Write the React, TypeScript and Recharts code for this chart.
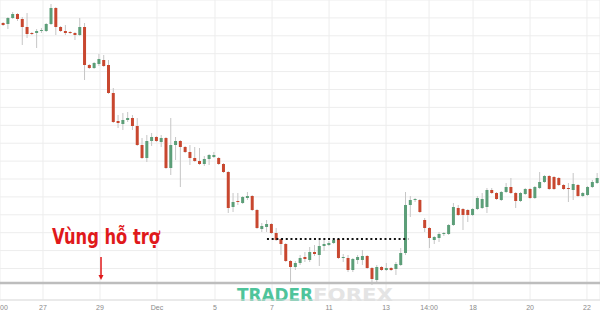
import React from 'react';
import { ComposedChart, Bar, XAxis, YAxis, CartesianGrid, ReferenceLine } from 'recharts';

// 4H candles, price in arbitrary units
const opens = [
  277, 276, 282, 286, 281, 273, 267, 267, 269, 269, 276, 292, 273, 269, 268, 267, 265, 273, 235, 232,
  236, 240, 235, 207, 179, 176, 180, 182, 174, 155, 142, 159, 163, 158, 162, 132, 155, 159, 153, 148,
  142, 139, 136, 141, 143, 142, 136, 128, 93, 99, 97, 102, 104, 90, 71, 73, 76, 67, 61, 56,
  39, 33, 37, 43, 40, 48, 45, 54, 55, 57, 61, 42, 42, 30, 40, 40, 44, 32, 20, 33,
  30, 32, 31, 35, 47, 95, 100, 100, 80, 72, 60, 62, 66, 66, 75, 92, 91, 90, 85, 91,
  92, 93, 110, 107, 100, 108, 113, 107, 99, 106, 111, 102, 112, 118, 124, 123, 122, 115, 112, 110,
  115, 104, 105, 113, 117,
];
const highs = [
  278, 283, 288, 287, 283, 287, 268, 271, 272, 277, 296, 293, 274, 275, 269, 268, 282, 277, 236, 238,
  246, 245, 240, 212, 185, 187, 188, 185, 182, 162, 165, 167, 164, 165, 163, 182, 163, 160, 154, 155,
  153, 152, 144, 146, 148, 143, 137, 129, 107, 107, 104, 108, 105, 91, 77, 80, 77, 72, 62, 57,
  40, 39, 45, 48, 53, 55, 60, 60, 59, 61, 61, 46, 45, 42, 45, 50, 45, 33, 35, 34,
  37, 33, 38, 52, 108, 104, 102, 101, 82, 73, 64, 68, 68, 76, 97, 95, 92, 91, 92, 104,
  107, 112, 112, 108, 109, 117, 122, 108, 108, 112, 112, 114, 128, 125, 125, 124, 123, 116, 117, 127,
  116, 108, 114, 120, 127,
];
const lows = [
  274, 271, 281, 279, 255, 262, 265, 252, 267, 268, 275, 265, 268, 265, 266, 260, 264, 220, 231, 231,
  234, 233, 206, 177, 172, 170, 178, 170, 154, 141, 138, 154, 158, 153, 131, 125, 140, 113, 147, 135,
  138, 135, 134, 135, 142, 135, 127, 87, 88, 95, 96, 100, 89, 71, 68, 68, 66, 59, 45, 38,
  18, 30, 35, 38, 38, 44, 34, 49, 54, 56, 41, 38, 28, 28, 36, 35, 31, 15, 17, 29,
  29, 29, 25, 34, 45, 83, 98, 87, 68, 52, 56, 58, 64, 65, 74, 84, 70, 78, 84, 90,
  91, 87, 106, 100, 99, 107, 106, 92, 98, 105, 101, 101, 111, 117, 110, 110, 114, 110, 98, 100,
  103, 103, 104, 112, 116,
];
const closes = [
  275, 282, 286, 281, 273, 266, 266, 269, 270, 276, 292, 273, 269, 267, 267, 265, 273, 235, 232, 237,
  241, 234, 207, 178, 177, 180, 182, 174, 155, 142, 159, 163, 159, 162, 132, 155, 159, 153, 148, 142,
  139, 136, 141, 145, 145, 136, 128, 92, 98, 98, 103, 104, 90, 72, 74, 76, 67, 60, 56, 39,
  33, 37, 42, 41, 48, 46, 54, 56, 57, 60, 42, 43, 30, 41, 43, 44, 32, 21, 33, 30,
  32, 30, 36, 47, 95, 100, 101, 88, 72, 62, 63, 66, 67, 75, 93, 85, 85, 85, 91, 102,
  101, 110, 107, 101, 108, 113, 107, 99, 107, 111, 102, 113, 118, 124, 111, 111, 115, 111, 111, 116,
  104, 107, 113, 118, 122,
];

// x-axis labels (candle-index positions) and price grid levels
const tickIdx = [8.35, 20.25, 32.15, 44.26, 56.16, 68.06, 79.96, 88.94, 98.12, 110.02, 121.9];
const tickLabels = ['27', '29', 'Dec', '5', '7', '11', '13', '14:00', '18', '20', '22'];
const gridLevels = [282.1, 264.2, 246.3, 228.4, 210.5, 192.6, 174.7, 156.8, 138.9, 121, 103.1, 85.2, 67.3, 49.4, 31.5];

const supportLevel = 61;
const supportStart = 55.1;
const supportEnd = 84.6;
const baseLevel = 17;
const arrowAt = 20.46;

const GREEN = '#5c9e78';
const RED = '#c8472f';

const candles = opens.map((o, i) => ({
  i,
  open: o,
  high: highs[i],
  low: lows[i],
  close: closes[i],
}));

const Candle = (props: any) => {
  const { x, y, width, height, payload } = props;
  const { open, close, high, low } = payload;
  const top = Math.min(y, y + height);
  const bot = Math.max(y, y + height);
  const k = high === low ? 0 : (bot - top) / (high - low);
  const yO = top + (high - open) * k;
  const yC = top + (high - close) * k;
  const cx = x + width / 2;
  const up = close >= open;
  const bTop = Math.min(yO, yC);
  const bH = Math.max(1, Math.abs(yC - yO));
  return (
    <g>
      <line x1={cx} x2={cx} y1={top} y2={bot} stroke="#c6c6c6" strokeWidth={1} />
      <rect x={cx - 1.5} y={bTop} width={3} height={bH} fill={up ? GREEN : RED} />
    </g>
  );
};

const Tick = (props: any) => {
  const { x, y, payload, index } = props;
  return (
    <text x={x} y={y + 10} textAnchor="middle" fontSize={7} fill="#8a8a8a" fontFamily="Liberation Sans, Arial, sans-serif">
      {tickLabels[index] ?? payload.value}
    </text>
  );
};

const Arrow = (props: any) => {
  const { x1, y1, x2, y2 } = props;
  return (
    <g>
      <line x1={x1} y1={y1} x2={x2} y2={y2 - 4} stroke="#e0191b" strokeWidth={1.5} />
      <polygon points={`${x2 - 2.5},${y2 - 5} ${x2 + 2.5},${y2 - 5} ${x2},${y2}`} fill="#e0191b" />
    </g>
  );
};

export default function App() {
  return (
    <div style={{ width: 600, height: 314, background: '#fff', overflow: 'hidden' }}>
      <style>{`body{margin:0}`}</style>
      <ComposedChart width={600} height={314} data={candles} margin={{ top: 0, right: 0, bottom: 0, left: 0 }}>
        <CartesianGrid stroke="#ededed" strokeWidth={1} />
        <XAxis
          dataKey="i"
          type="number"
          domain={[-0.626, 124.62]}
          allowDataOverflow
          ticks={tickIdx}
          interval={0}
          height={14}
          tickSize={0}
          tickMargin={0}
          axisLine={{ stroke: '#dedede' }}
          tickLine={false}
          tick={<Tick />}
        />
        <YAxis type="number" domain={[0, 300]} ticks={gridLevels} interval={0} hide allowDataOverflow />
        <text x={0} y={310} fontSize={7} fill="#8a8a8a" fontFamily="Liberation Sans, Arial, sans-serif">00</text>
        <text x={237} y={301} fontSize={17} fontWeight={700} fill="#4fc49b" fontFamily="DejaVu Sans Condensed, DejaVu Sans, sans-serif" textLength={76} lengthAdjust="spacingAndGlyphs">
          TRADER
        </text>
        <text x={313} y={301} fontSize={17} fontWeight={700} fill="#e4e4e4" fontFamily="DejaVu Sans Condensed, DejaVu Sans, sans-serif" textLength={80} lengthAdjust="spacingAndGlyphs">
          FOREX
        </text>
        <ReferenceLine y={baseLevel} stroke="#bdbdbd" strokeWidth={2.5} />
        <Bar dataKey={(d: any) => [d.low, d.high]} barSize={3} shape={<Candle />} isAnimationActive={false} />
        <ReferenceLine
          segment={[{ x: supportStart, y: supportLevel }, { x: supportEnd, y: supportLevel }]}
          stroke="#111"
          strokeWidth={2}
          strokeDasharray="2 2.7"
        />
        <ReferenceLine
          segment={[{ x: arrowAt, y: 43 }, { x: arrowAt, y: 20 }]}
          shape={<Arrow />}
        />
        <text x={52} y={244} fontSize={22} fontWeight={700} fill="#e0191b" fontFamily="DejaVu Sans Condensed, DejaVu Sans, sans-serif" textLength={108} lengthAdjust="spacingAndGlyphs">
          Vùng hỗ trợ
        </text>
      </ComposedChart>
    </div>
  );
}
